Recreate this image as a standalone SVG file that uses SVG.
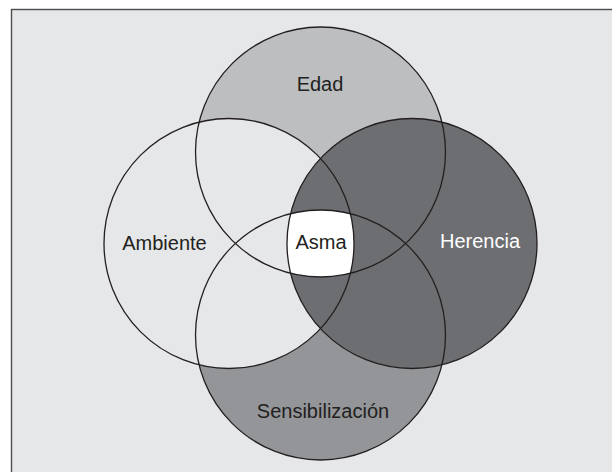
<svg xmlns="http://www.w3.org/2000/svg" width="612" height="472" viewBox="0 0 612 472">
  <style>
    .outline { fill: none; stroke: #231f20; stroke-width: 1.3; }
    .lbl { font-family: "Liberation Sans", Arial, sans-serif; font-size: 20px; fill: #231f20; text-anchor: middle; }
    .lbl-light { fill: #ffffff; }
  </style>
  <defs>
    <clipPath id="cEdad"><circle cx="320.5" cy="152" r="125"/></clipPath>
    <clipPath id="cSens"><circle cx="320.5" cy="335" r="125"/></clipPath>
    <clipPath id="cAmb"><circle cx="229" cy="243.5" r="125"/></clipPath>
    <clipPath id="cHer"><circle cx="412" cy="243.5" r="125"/></clipPath>
  </defs>
  <rect x="0" y="0" width="612" height="472" fill="#ffffff"/>
  <rect x="11.5" y="9.5" width="610" height="470" fill="#e6e7e8" stroke="#4d4d4f" stroke-width="1.4"/>

  <g id="edad">
    <circle cx="320.5" cy="152" r="125" fill="#bcbec0"/>
  </g>
  <g id="sensibilizacion">
    <circle cx="320.5" cy="335" r="125" fill="#939598"/>
  </g>
  <g id="ambiente">
    <circle cx="229" cy="243.5" r="125" fill="#e6e7e8"/>
  </g>
  <g id="herencia">
    <circle cx="412" cy="243.5" r="125" fill="#6d6e71"/>
  </g>
  <g id="asma">
    <g clip-path="url(#cEdad)">
      <g clip-path="url(#cSens)">
        <g clip-path="url(#cAmb)">
          <rect x="200" y="120" width="240" height="240" fill="#ffffff" clip-path="url(#cHer)"/>
        </g>
      </g>
    </g>
  </g>

  <g id="outlines">
    <circle class="outline" cx="320.5" cy="152" r="125"/>
    <circle class="outline" cx="320.5" cy="335" r="125"/>
    <circle class="outline" cx="229" cy="243.5" r="125"/>
    <circle class="outline" cx="412" cy="243.5" r="125"/>
  </g>

  <g id="labels">
    <text class="lbl" x="320" y="91">Edad</text>
    <text class="lbl" x="164.5" y="250">Ambiente</text>
    <text class="lbl" x="321" y="249">Asma</text>
    <text class="lbl lbl-light" x="480" y="248">Herencia</text>
    <text class="lbl" x="323" y="418">Sensibilización</text>
  </g>
</svg>
